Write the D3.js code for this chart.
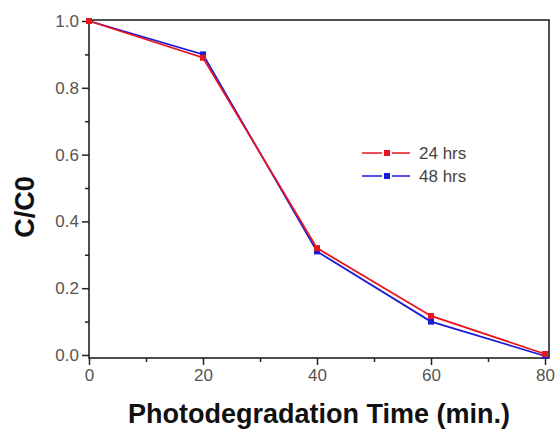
<!DOCTYPE html>
<html>
<head>
<meta charset="utf-8">
<script src="https://cdn.jsdelivr.net/npm/d3@7"></script>
<style>
  body { margin: 0; background: #fff; }
  text { font-family: "Liberation Sans", Arial, sans-serif; }
</style>
</head>
<body>
<div id="chart"></div>
<script>
// Data
var times = [0, 20, 40, 60, 80];
var hrs24 = [1.0, 0.89, 0.32, 0.117, 0.003];
var hrs48 = [1.0, 0.90, 0.31, 0.10, -0.003];
var seriesNames = ["24 hrs", "48 hrs"];
var seriesColors = ["#e8141e", "#1a1ad8"];
var xTicks = [0, 20, 40, 60, 80];
var yTicks = [0.0, 0.2, 0.4, 0.6, 0.8, 1.0];

var width = 556, height = 432;
var margin = {top: 20, right: 7, bottom: 74, left: 89};

var svg = d3.select("#chart").append("svg")
    .attr("width", width)
    .attr("height", height);

var x = d3.scaleLinear()
    .domain([0, 80.7])
    .range([margin.left, width - margin.right]);

var y = d3.scaleLinear()
    .domain([-0.009, 1.003])
    .range([height - margin.bottom, margin.top]);

// x axis: major and minor ticks
var xAxis = d3.axisBottom(x).tickValues(xTicks).tickSize(7).tickPadding(4)
    .tickFormat(d3.format("d"));
var xMinor = d3.axisBottom(x).tickValues([10, 30, 50, 70]).tickSize(4).tickFormat("");

var yAxis = d3.axisLeft(y).tickValues(yTicks).tickSize(7).tickPadding(3)
    .tickFormat(d3.format(".1f"));
var yMinor = d3.axisLeft(y).tickValues([0.1, 0.3, 0.5, 0.7, 0.9]).tickSize(4).tickFormat("");

function styleAxis(g) {
    g.select(".domain").remove();
    g.selectAll(".tick line").attr("stroke", "#222").attr("stroke-width", 1.5);
    g.selectAll(".tick text").attr("fill", "#555").style("font-size", "17px");
}

svg.append("g")
    .attr("transform", "translate(0," + (height - margin.bottom) + ")")
    .call(xAxis).call(styleAxis);
svg.append("g")
    .attr("transform", "translate(0," + (height - margin.bottom) + ")")
    .call(xMinor).call(styleAxis);
svg.append("g")
    .attr("transform", "translate(" + margin.left + ",0)")
    .call(yAxis).call(styleAxis);
svg.append("g")
    .attr("transform", "translate(" + margin.left + ",0)")
    .call(yMinor).call(styleAxis);

// frame
svg.append("rect")
    .attr("x", x.range()[0])
    .attr("y", y.range()[1])
    .attr("width", x.range()[1] - x.range()[0])
    .attr("height", y.range()[0] - y.range()[1])
    .attr("fill", "none")
    .attr("stroke", "#222")
    .attr("stroke-width", 1.6);

// lines (blue under red)
var line = d3.line()
    .x(function(d, i) { return x(times[i]); })
    .y(function(d) { return y(d); });

var series = [hrs48, hrs24];
var colors = [seriesColors[1], seriesColors[0]];

series.forEach(function(s, k) {
    svg.append("path")
        .datum(s)
        .attr("fill", "none")
        .attr("stroke", colors[k])
        .attr("stroke-width", 1.8)
        .attr("d", line);
});
series.forEach(function(s, k) {
    svg.selectAll(null)
        .data(s)
        .enter().append("rect")
        .attr("x", function(d, i) { return x(times[i]) - 3; })
        .attr("y", function(d) { return y(d) - 3; })
        .attr("width", 6)
        .attr("height", 6)
        .attr("fill", colors[k]);
});

// legend
var legend = svg.append("g").attr("transform", "translate(362,153)");
seriesNames.forEach(function(name, i) {
    var g = legend.append("g").attr("transform", "translate(0," + (i * 23) + ")");
    g.append("line").attr("x1", 0).attr("x2", 20).attr("y1", 0).attr("y2", 0)
        .attr("stroke", seriesColors[i]).attr("stroke-width", 1.5);
    g.append("line").attr("x1", 30).attr("x2", 48).attr("y1", 0).attr("y2", 0)
        .attr("stroke", seriesColors[i]).attr("stroke-width", 1.5);
    g.append("rect").attr("x", 22).attr("y", -3).attr("width", 6).attr("height", 6)
        .attr("fill", seriesColors[i]);
    g.append("text").attr("x", 57).attr("y", 6)
        .attr("fill", "#444")
        .style("font-size", "17px")
        .text(name);
});

// axis titles
svg.append("text")
    .attr("x", 319)
    .attr("y", 423)
    .attr("text-anchor", "middle")
    .style("font-size", "27px")
    .style("font-weight", "bold")
    .attr("fill", "#111")
    .text("Photodegradation Time (min.)");

svg.append("text")
    .attr("transform", "translate(34,207) rotate(-90)")
    .attr("text-anchor", "middle")
    .style("font-size", "27px")
    .style("font-weight", "bold")
    .attr("fill", "#111")
    .text("C/C0");
</script>
</body>
</html>
